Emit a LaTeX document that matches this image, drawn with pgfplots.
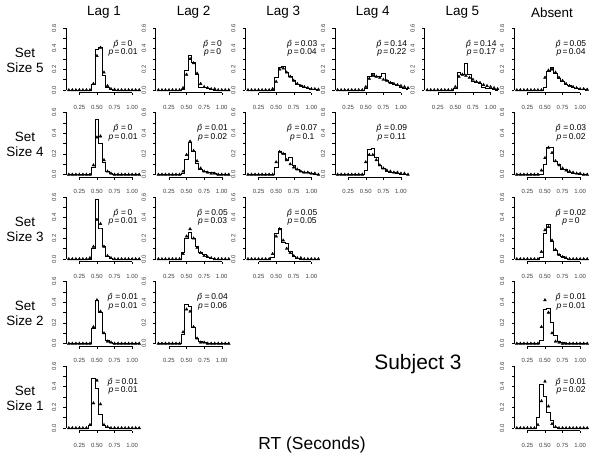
\documentclass[border=0pt]{standalone}
\usepackage{fontspec}
\setmainfont{Liberation Sans}
\usepackage{pgfplots}
\usepackage{pgfplotstable}
\pgfplotsset{compat=1.18}

\pgfplotsset{
  panel/.style={
    scale only axis, width=76bp, height=67bp,
    xmin=0.06, xmax=1.14, ymin=-0.024, ymax=0.624,
    anchor=south west, clip=false,
    axis line style={draw=none},
    tick pos=left, tick align=outside,
    xtick={0.25,0.5,0.75,1}, xticklabels={0.25,0.50,0.75,1.00},
    ytick={0,0.2,0.4,0.6}, yticklabels={0.0,0.2,0.4,0.6},
    minor ytick={0.1,0.3,0.5},
    major tick length=2.5bp, minor tick length=2.5bp,
    tick style={black, line width=0.5bp},
    ticklabel style={font=\fontsize{6}{7}\selectfont, text=black!75},
    xticklabel style={anchor=north, inner sep=0pt, yshift=-10bp},
    yticklabel style={rotate=90, anchor=south, inner xsep=0pt, inner ysep=7bp},
    after end axis/.code={
      \draw[black, line width=0.5bp] (axis cs:0.06,0) -- (axis cs:0.06,0.6);
      \draw[black, line width=0.5bp] (axis cs:0.25,-0.024) -- (axis cs:1,-0.024);
    },
  },
  hist/.style={const plot mark mid, black, line width=0.8bp, mark=none},
  tri/.style={only marks, mark=triangle*, mark size=1.6bp, black},
}
\tikzset{ann/.style={font=\fontsize{8.5}{10}\selectfont, inner sep=0pt}}

% x = bin centre, h = observed histogram, t = predicted (triangles)
\pgfplotstableread[row sep=\\]{x h t\\
0.10 0 0\\ 0.15 0 0\\ 0.20 0 0\\ 0.25 0 0\\ 0.30 0 0\\ 0.35 0 0\\ 0.40 0 0\\
0.45 0.05 0.06\\ 0.50 0.39 0.33\\ 0.55 0.41 0.41\\ 0.60 0.14 0.17\\ 0.65 0.03 0.04\\
0.70 0.01 0.01\\ 0.75 0 0.005\\ 0.80 0 0\\ 0.85 0 0\\ 0.90 0 0\\ 0.95 0 0\\ 1.00 0 0\\
1.05 0 0\\ 1.10 0 0\\}\tA
\pgfplotstableread[row sep=\\]{x h t\\
0.10 0 0\\ 0.15 0 0\\ 0.20 0 0\\ 0.25 0 0\\ 0.30 0 0\\ 0.35 0 0\\ 0.40 0 0\\
0.45 0.01 0.02\\ 0.50 0.19 0.15\\ 0.55 0.33 0.30\\ 0.60 0.27 0.26\\ 0.65 0.15 0.16\\
0.70 0.03 0.06\\ 0.75 0.03 0.03\\ 0.80 0.02 0.02\\ 0.85 0.01 0.01\\ 0.90 0 0.01\\ 0.95 0 0\\ 1.00 0 0\\
1.05 0 0\\ 1.10 0 0\\}\tB
\pgfplotstableread[row sep=\\]{x h t\\
0.10 0 0\\ 0.15 0 0\\ 0.20 0 0\\ 0.25 0 0\\ 0.30 0 0\\ 0.35 0 0\\ 0.40 0 0\\
0.45 0 0.01\\ 0.50 0.12 0.08\\ 0.55 0.22 0.20\\ 0.60 0.23 0.21\\ 0.65 0.17 0.17\\
0.70 0.13 0.13\\ 0.75 0.09 0.09\\ 0.80 0.05 0.06\\ 0.85 0.04 0.04\\ 0.90 0.03 0.03\\ 0.95 0.02 0.02\\ 1.00 0.01 0.01\\
1.05 0.01 0.01\\ 1.10 0 0.005\\}\tC
\pgfplotstableread[row sep=\\]{x h t\\
0.10 0 0\\ 0.15 0 0\\ 0.20 0 0\\ 0.25 0 0\\ 0.30 0 0\\ 0.35 0 0\\ 0.40 0 0\\
0.45 0 0\\ 0.50 0.02 0.03\\ 0.55 0.13 0.11\\ 0.60 0.16 0.14\\ 0.65 0.13 0.13\\
0.70 0.13 0.12\\ 0.75 0.16 0.10\\ 0.80 0.09 0.09\\ 0.85 0.07 0.07\\ 0.90 0.05 0.06\\ 0.95 0.04 0.05\\ 1.00 0.03 0.04\\
1.05 0.02 0.03\\ 1.10 0.01 0.02\\}\tD
\pgfplotstableread[row sep=\\]{x h t\\
0.10 0 0\\ 0.15 0 0\\ 0.20 0 0\\ 0.25 0 0\\ 0.30 0 0\\ 0.35 0 0\\ 0.40 0 0\\
0.45 0 0\\ 0.50 0.02 0.03\\ 0.55 0.17 0.13\\ 0.60 0.15 0.15\\ 0.65 0.26 0.14\\
0.70 0.15 0.12\\ 0.75 0.08 0.10\\ 0.80 0.07 0.08\\ 0.85 0.06 0.07\\ 0.90 0.03 0.05\\ 0.95 0.02 0.04\\ 1.00 0.02 0.03\\
1.05 0.01 0.02\\ 1.10 0 0.01\\}\tE
\pgfplotstableread[row sep=\\]{x h t\\
0.10 0 0\\ 0.15 0 0\\ 0.20 0 0\\ 0.25 0 0\\ 0.30 0 0\\ 0.35 0 0\\ 0.40 0 0\\
0.45 0 0\\ 0.50 0.03 0.12\\ 0.55 0.18 0.19\\ 0.60 0.22 0.20\\ 0.65 0.16 0.17\\
0.70 0.11 0.12\\ 0.75 0.08 0.09\\ 0.80 0.05 0.06\\ 0.85 0.04 0.04\\ 0.90 0.03 0.03\\ 0.95 0.02 0.02\\ 1.00 0.01 0.01\\
1.05 0.01 0.01\\ 1.10 0 0.005\\}\tF
\pgfplotstableread[row sep=\\]{x h t\\
0.10 0 0\\ 0.15 0 0\\ 0.20 0 0\\ 0.25 0 0\\ 0.30 0 0\\ 0.35 0 0\\ 0.40 0 0\\
0.45 0.07 0.09\\ 0.50 0.53 0.36\\ 0.55 0.30 0.37\\ 0.60 0.12 0.14\\ 0.65 0.03 0.03\\
0.70 0.01 0.01\\ 0.75 0 0\\ 0.80 0 0\\ 0.85 0 0\\ 0.90 0 0\\ 0.95 0 0\\ 1.00 0 0\\
1.05 0 0\\ 1.10 0 0\\}\tG
\pgfplotstableread[row sep=\\]{x h t\\
0.10 0 0\\ 0.15 0 0\\ 0.20 0 0\\ 0.25 0 0\\ 0.30 0 0\\ 0.35 0 0\\ 0.40 0 0\\
0.45 0.01 0.03\\ 0.50 0.15 0.19\\ 0.55 0.31 0.32\\ 0.60 0.22 0.23\\ 0.65 0.11 0.13\\
0.70 0.05 0.06\\ 0.75 0.03 0.03\\ 0.80 0.02 0.02\\ 0.85 0.02 0.01\\ 0.90 0.01 0.01\\ 0.95 0 0\\ 1.00 0 0\\
1.05 0 0\\ 1.10 0 0\\}\tH
\pgfplotstableread[row sep=\\]{x h t\\
0.10 0 0\\ 0.15 0 0\\ 0.20 0 0\\ 0.25 0 0\\ 0.30 0 0\\ 0.35 0 0\\ 0.40 0 0\\
0.45 0 0\\ 0.50 0.07 0.12\\ 0.55 0.22 0.22\\ 0.60 0.20 0.20\\ 0.65 0.14 0.14\\
0.70 0.17 0.10\\ 0.75 0.09 0.07\\ 0.80 0.05 0.05\\ 0.85 0.03 0.03\\ 0.90 0.02 0.02\\ 0.95 0.02 0.02\\ 1.00 0.01 0.01\\
1.05 0 0.01\\ 1.10 0 0\\}\tI
\pgfplotstableread[row sep=\\]{x h t\\
0.10 0 0\\ 0.15 0 0\\ 0.20 0 0\\ 0.25 0 0\\ 0.30 0 0\\ 0.35 0 0\\ 0.40 0 0\\
0.45 0 0\\ 0.50 0.04 0.12\\ 0.55 0.24 0.19\\ 0.60 0.25 0.19\\ 0.65 0.17 0.14\\
0.70 0.09 0.09\\ 0.75 0.06 0.06\\ 0.80 0.03 0.04\\ 0.85 0.02 0.03\\ 0.90 0.02 0.02\\ 0.95 0.01 0.02\\ 1.00 0 0.01\\
1.05 0 0.01\\ 1.10 0 0\\}\tJ
\pgfplotstableread[row sep=\\]{x h t\\
0.10 0 0\\ 0.15 0 0\\ 0.20 0 0\\ 0.25 0 0\\ 0.30 0 0\\ 0.35 0 0\\ 0.40 0 0\\
0.45 0 0.04\\ 0.50 0.10 0.16\\ 0.55 0.26 0.26\\ 0.60 0.26 0.21\\ 0.65 0.13 0.13\\
0.70 0.10 0.09\\ 0.75 0.05 0.06\\ 0.80 0.05 0.04\\ 0.85 0.02 0.03\\ 0.90 0.01 0.02\\ 0.95 0.01 0.01\\ 1.00 0 0.01\\
1.05 0 0\\ 1.10 0 0\\}\tK
\pgfplotstableread[row sep=\\]{x h t\\
0.10 0 0\\ 0.15 0 0\\ 0.20 0 0\\ 0.25 0 0\\ 0.30 0 0\\ 0.35 0 0\\ 0.40 0 0.01\\
0.45 0.10 0.12\\ 0.50 0.58 0.38\\ 0.55 0.30 0.34\\ 0.60 0.12 0.12\\ 0.65 0.03 0.03\\
0.70 0.01 0.01\\ 0.75 0 0\\ 0.80 0 0\\ 0.85 0 0\\ 0.90 0 0\\ 0.95 0 0\\ 1.00 0 0\\
1.05 0 0\\ 1.10 0 0\\}\tL
\pgfplotstableread[row sep=\\]{x h t\\
0.10 0 0\\ 0.15 0 0\\ 0.20 0 0\\ 0.25 0 0\\ 0.30 0 0\\ 0.35 0 0\\ 0.40 0 0\\
0.45 0.06 0.05\\ 0.50 0.20 0.22\\ 0.55 0.26 0.29\\ 0.60 0.20 0.20\\ 0.65 0.12 0.11\\
0.70 0.06 0.06\\ 0.75 0.04 0.03\\ 0.80 0.02 0.02\\ 0.85 0.01 0.01\\ 0.90 0 0\\ 0.95 0 0\\ 1.00 0 0\\
1.05 0 0\\ 1.10 0 0\\}\tM
\pgfplotstableread[row sep=\\]{x h t\\
0.10 0 0\\ 0.15 0 0\\ 0.20 0 0\\ 0.25 0 0\\ 0.30 0 0\\ 0.35 0 0\\ 0.40 0 0\\
0.45 0.02 0.05\\ 0.50 0.25 0.22\\ 0.55 0.30 0.29\\ 0.60 0.16 0.18\\ 0.65 0.15 0.10\\
0.70 0.07 0.06\\ 0.75 0.03 0.03\\ 0.80 0.01 0.01\\ 0.85 0 0.01\\ 0.90 0 0\\ 0.95 0 0\\ 1.00 0 0\\
1.05 0 0\\ 1.10 0 0\\}\tN
\pgfplotstableread[row sep=\\]{x h t\\
0.10 0 0\\ 0.15 0 0\\ 0.20 0 0\\ 0.25 0 0\\ 0.30 0 0\\ 0.35 0 0\\ 0.40 0 0\\
0.45 0.02 0.07\\ 0.50 0.25 0.28\\ 0.55 0.33 0.31\\ 0.60 0.17 0.18\\ 0.65 0.08 0.09\\
0.70 0.04 0.04\\ 0.75 0.03 0.02\\ 0.80 0.01 0.01\\ 0.85 0 0\\ 0.90 0 0\\ 0.95 0 0\\ 1.00 0 0\\
1.05 0 0\\ 1.10 0 0\\}\tO
\pgfplotstableread[row sep=\\]{x h t\\
0.10 0 0\\ 0.15 0 0\\ 0.20 0 0\\ 0.25 0 0\\ 0.30 0 0\\ 0.35 0 0\\ 0.40 0 0\\
0.45 0.15 0.16\\ 0.50 0.42 0.42\\ 0.55 0.30 0.31\\ 0.60 0.10 0.10\\ 0.65 0.03 0.02\\
0.70 0.01 0.01\\ 0.75 0 0\\ 0.80 0 0\\ 0.85 0 0\\ 0.90 0 0\\ 0.95 0 0\\ 1.00 0 0\\
1.05 0 0\\ 1.10 0 0\\}\tP
\pgfplotstableread[row sep=\\]{x h t\\
0.10 0 0\\ 0.15 0 0\\ 0.20 0 0\\ 0.25 0 0\\ 0.30 0 0\\ 0.35 0 0\\ 0.40 0 0\\
0.45 0.09 0.11\\ 0.50 0.38 0.33\\ 0.55 0.36 0.31\\ 0.60 0.16 0.16\\ 0.65 0.05 0.05\\
0.70 0.02 0.01\\ 0.75 0.01 0.01\\ 0.80 0 0\\ 0.85 0 0\\ 0.90 0 0\\ 0.95 0 0\\ 1.00 0 0\\
1.05 0 0\\ 1.10 0 0\\}\tQ
\pgfplotstableread[row sep=\\]{x h t\\
0.10 0 0\\ 0.15 0 0\\ 0.20 0 0\\ 0.25 0 0\\ 0.30 0 0\\ 0.35 0 0\\ 0.40 0 0\\
0.45 0.03 0.16\\ 0.50 0.33 0.42\\ 0.55 0.34 0.30\\ 0.60 0.20 0.10\\ 0.65 0.08 0.02\\
0.70 0.02 0.01\\ 0.75 0.01 0\\ 0.80 0 0\\ 0.85 0 0\\ 0.90 0 0\\ 0.95 0 0\\ 1.00 0 0\\
1.05 0 0\\ 1.10 0 0\\}\tR
\pgfplotstableread[row sep=\\]{x h t\\
0.10 0 0\\ 0.15 0 0\\ 0.20 0 0\\ 0.25 0 0\\ 0.30 0 0\\ 0.35 0 0\\ 0.40 0.03 0.03\\
0.45 0.48 0.24\\ 0.50 0.38 0.46\\ 0.55 0.13 0.23\\ 0.60 0.03 0.03\\ 0.65 0.01 0.01\\
0.70 0 0\\ 0.75 0 0\\ 0.80 0 0\\ 0.85 0 0\\ 0.90 0 0\\ 0.95 0 0\\ 1.00 0 0\\
1.05 0 0\\ 1.10 0 0\\}\tS
\pgfplotstableread[row sep=\\]{x h t\\
0.10 0 0\\ 0.15 0 0\\ 0.20 0 0\\ 0.25 0 0\\ 0.30 0 0\\ 0.35 0 0\\ 0.40 0.10 0.03\\
0.45 0.42 0.26\\ 0.50 0.31 0.45\\ 0.55 0.15 0.21\\ 0.60 0.07 0.04\\ 0.65 0.01 0.01\\
0.70 0 0\\ 0.75 0 0\\ 0.80 0 0\\ 0.85 0 0\\ 0.90 0 0\\ 0.95 0 0\\ 1.00 0 0\\
1.05 0 0\\ 1.10 0 0\\}\tT

% \panel{left}{bottom}{table}{p-hat}{p}
\newcommand{\panel}[5]{%
  \begin{axis}[panel, at={(#1bp,-#2bp)}]
    \addplot[hist] table[x=x,y=h]{#3};
    \addplot[tri] table[x=x,y=t]{#3};
    \node[ann] at (axis cs:0.87,0.444) {\textit{\^{p}}\,=\,#4};
    \node[ann] at (axis cs:0.87,0.363) {\textit{p}\,=\,#5};
  \end{axis}}

\begin{document}
\begin{tikzpicture}
\useasboundingbox (0,0) rectangle (600bp,-458bp);

% column titles
\begin{scope}[every node/.style={font=\fontsize{13.5}{16}\selectfont}]
  \node at (104bp,-12.5bp) {Lag 1};
  \node at (193.6bp,-12.5bp) {Lag 2};
  \node at (283.2bp,-12.5bp) {Lag 3};
  \node at (372.8bp,-12.5bp) {Lag 4};
  \node at (462.4bp,-12.5bp) {Lag 5};
  \node at (552bp,-12.5bp) {Absent};
\end{scope}
% row labels
\begin{scope}[every node/.style={font=\fontsize{13.5}{15}\selectfont, align=center}]
  \node at (25bp,-60bp) {Set\\Size 5};
  \node at (25bp,-144.5bp) {Set\\Size 4};
  \node at (25bp,-229bp) {Set\\Size 3};
  \node at (25bp,-313.5bp) {Set\\Size 2};
  \node at (25bp,-398bp) {Set\\Size 1};
\end{scope}

% Set size 5
\panel{66}{92.5}{\tA}{0}{0.01}
\panel{155.6}{92.5}{\tB}{0}{0}
\panel{245.2}{92.5}{\tC}{0.03}{0.04}
\panel{334.8}{92.5}{\tD}{0.14}{0.22}
\panel{424.4}{92.5}{\tE}{0.14}{0.17}
\panel{514}{92.5}{\tF}{0.05}{0.04}
% Set size 4
\panel{66}{177}{\tG}{0}{0.01}
\panel{155.6}{177}{\tH}{0.01}{0.02}
\panel{245.2}{177}{\tI}{0.07}{0.1}
\panel{334.8}{177}{\tJ}{0.09}{0.11}
\panel{514}{177}{\tK}{0.03}{0.02}
% Set size 3
\panel{66}{261.5}{\tL}{0}{0.01}
\panel{155.6}{261.5}{\tM}{0.05}{0.03}
\panel{245.2}{261.5}{\tN}{0.05}{0.05}
\panel{514}{261.5}{\tO}{0.02}{0}
% Set size 2
\panel{66}{346}{\tP}{0.01}{0.01}
\panel{155.6}{346}{\tQ}{0.04}{0.06}
\panel{514}{346}{\tR}{0.01}{0.01}
% Set size 1
\panel{66}{430.5}{\tS}{0.01}{0.01}
\panel{514}{430.5}{\tT}{0.01}{0.02}

\node[font=\fontsize{21}{24}\selectfont] at (418bp,-364bp) {Subject 3};
\node[font=\fontsize{17.5}{20}\selectfont] at (312bp,-445bp) {RT (Seconds)};
\end{tikzpicture}
\end{document}
